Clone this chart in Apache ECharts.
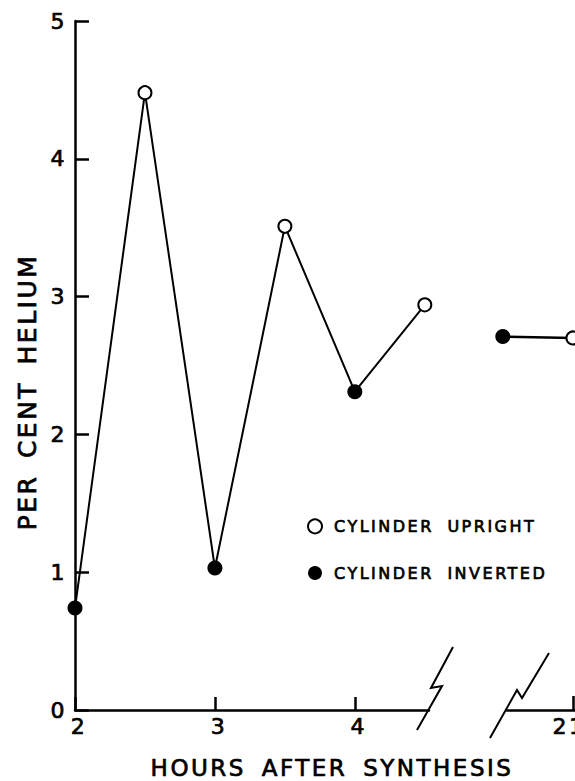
<!DOCTYPE html>
<html>
<head>
<meta charset="utf-8">
<script src="https://cdn.jsdelivr.net/npm/echarts@6/dist/echarts.min.js"></script>
<style>
  html, body { margin: 0; padding: 0; background: #fff; }
  #chart { width: 575px; height: 781px; }
  /* lettering is drawn widely spaced, in the manner of stencil lettering */
  #chart text { letter-spacing: 2.5px; word-spacing: 6px; }
</style>
</head>
<body>
<div id="chart"></div>
<script>
// Helium content of the gas, hours after synthesis
const hoursEarly    = [2, 2.5, 3, 3.5, 4, 4.5];
const heliumEarly   = [0.74, 4.48, 1.03, 3.51, 2.31, 2.94];
const positionEarly = ['inverted', 'upright', 'inverted', 'upright', 'inverted', 'upright'];

const hoursLate    = [20.5, 21];
const heliumLate   = [2.71, 2.70];
const positionLate = ['inverted', 'upright'];

const xTicksEarly = [2, 3, 4];
const xTicksLate  = [21];
const yTicks      = [0, 1, 2, 3, 4, 5];

const seriesNames = { upright: 'CYLINDER UPRIGHT', inverted: 'CYLINDER INVERTED' };

const FONT = 'DejaVu Sans';
const INK = '#000';

function pairs(xs, ys) { return xs.map((x, i) => [x, ys[i]]); }
function pick(xs, ys, pos, want) {
  return xs.map((x, i) => [x, ys[i], pos[i]]).filter(d => d[2] === want).map(d => [d[0], d[1]]);
}

// a thin outline on the glyphs gives the heavier pen stroke of the lettering
const inkText = { color: INK, fontFamily: FONT, textBorderColor: INK, textBorderWidth: 0.7 };

const axisLine = { show: true, lineStyle: { color: INK, width: 2.5 } };
const tickStyle = { color: INK, width: 2.5 };
const labelStyle = Object.assign({ fontSize: 22 }, inkText);

const uprightStyle = { color: '#fff', borderColor: INK, borderWidth: 2, opacity: 1 };
const invertedStyle = { color: INK, opacity: 1 };

const chart = echarts.init(document.getElementById('chart'), null, { renderer: 'svg' });

const option = {
  backgroundColor: '#fff',
  animation: false,
  grid: [
    { left: 75, top: 21, width: 354, height: 689, outerBoundsMode: 'none', containLabel: false },
    { left: 507, top: 21, width: 68, height: 689, outerBoundsMode: 'none', containLabel: false }
  ],
  xAxis: [
    {
      gridIndex: 0, type: 'value', min: 2, max: 4.53,
      axisLine: axisLine,
      axisTick: { show: true, inside: true, length: 13, customValues: xTicksEarly, lineStyle: tickStyle },
      axisLabel: Object.assign({ customValues: xTicksEarly, margin: 5, padding: [0, 0, 0, 8] }, labelStyle),
      splitLine: { show: false }
    },
    {
      gridIndex: 1, type: 'value', min: 20.53, max: 21.015,
      axisLine: axisLine,
      axisTick: { show: true, inside: true, length: 14, customValues: xTicksLate, lineStyle: tickStyle },
      axisLabel: Object.assign({ customValues: xTicksLate, margin: 5, padding: [0, 8, 0, 0] }, labelStyle),
      splitLine: { show: false }
    }
  ],
  yAxis: [
    {
      gridIndex: 0, type: 'value', min: 0, max: 5, interval: 1,
      axisLine: axisLine,
      axisTick: { show: true, inside: true, length: 14, customValues: yTicks, lineStyle: tickStyle },
      axisLabel: Object.assign({ customValues: yTicks, margin: 8 }, labelStyle),
      splitLine: { show: false }
    },
    {
      gridIndex: 1, type: 'value', min: 0, max: 5, interval: 1, show: false,
      splitLine: { show: false }
    }
  ],
  legend: {
    orient: 'vertical', left: 307, top: 518, padding: 0,
    itemWidth: 14, itemHeight: 14, itemGap: 30,
    selectedMode: false,
    textStyle: Object.assign({ fontSize: 16, padding: [0, 0, 0, 7] }, inkText),
    data: [
      { name: seriesNames.upright, icon: 'circle' },
      { name: seriesNames.inverted, icon: 'circle' }
    ]
  },
  series: [
    {
      type: 'line', xAxisIndex: 0, yAxisIndex: 0, clip: false, z: 2,
      symbol: 'none', lineStyle: { color: INK, width: 2 },
      data: pairs(hoursEarly, heliumEarly)
    },
    {
      type: 'line', xAxisIndex: 1, yAxisIndex: 1, clip: false, z: 2,
      symbol: 'none', lineStyle: { color: INK, width: 2.5 },
      data: pairs(hoursLate, heliumLate)
    },
    {
      name: seriesNames.upright, type: 'scatter', xAxisIndex: 0, yAxisIndex: 0, clip: false, z: 3,
      symbol: 'circle', symbolSize: 13, itemStyle: uprightStyle,
      data: pick(hoursEarly, heliumEarly, positionEarly, 'upright')
    },
    {
      name: seriesNames.upright, type: 'scatter', xAxisIndex: 1, yAxisIndex: 1, clip: false, z: 3,
      symbol: 'circle', symbolSize: 13, itemStyle: uprightStyle,
      data: pick(hoursLate, heliumLate, positionLate, 'upright')
    },
    {
      name: seriesNames.inverted, type: 'scatter', xAxisIndex: 0, yAxisIndex: 0, clip: false, z: 3,
      symbol: 'circle', symbolSize: 15, itemStyle: invertedStyle,
      data: pick(hoursEarly, heliumEarly, positionEarly, 'inverted')
    },
    {
      name: seriesNames.inverted, type: 'scatter', xAxisIndex: 1, yAxisIndex: 1, clip: false, z: 3,
      symbol: 'circle', symbolSize: 15, itemStyle: invertedStyle,
      data: pick(hoursLate, heliumLate, positionLate, 'inverted')
    }
  ]
};

chart.setOption(option);

// Break symbols where the time axis is interrupted, anchored to the axis ends
const endEarly = chart.convertToPixel({ xAxisIndex: 0, yAxisIndex: 0 }, [4.53, 0]);
const startLate = chart.convertToPixel({ xAxisIndex: 1, yAxisIndex: 1 }, [20.53, 0]);

function bolt(origin, rel) {
  return {
    type: 'polyline', z: 10,
    shape: { points: rel.map(p => [origin[0] + p[0], origin[1] + p[1]]) },
    style: { stroke: INK, lineWidth: 2, fill: null }
  };
}

const titleText = { fill: INK, fontFamily: FONT, stroke: INK, lineWidth: 0.7, align: 'center', verticalAlign: 'middle' };

chart.setOption({
  graphic: [
    bolt(endEarly, [[-12, 20], [13, -24], [2, -22], [24, -63]]),
    bolt(startLate, [[-17, 28], [10, -20], [15, -12], [42, -57]]),
    {
      type: 'text', x: 27, y: 392, rotation: Math.PI / 2,
      style: Object.assign({ text: 'PER CENT HELIUM', fontSize: 25 }, titleText)
    },
    {
      type: 'text', x: 332, y: 768,
      style: Object.assign({ text: 'HOURS AFTER SYNTHESIS', fontSize: 23 }, titleText)
    }
  ]
});
</script>
</body>
</html>
